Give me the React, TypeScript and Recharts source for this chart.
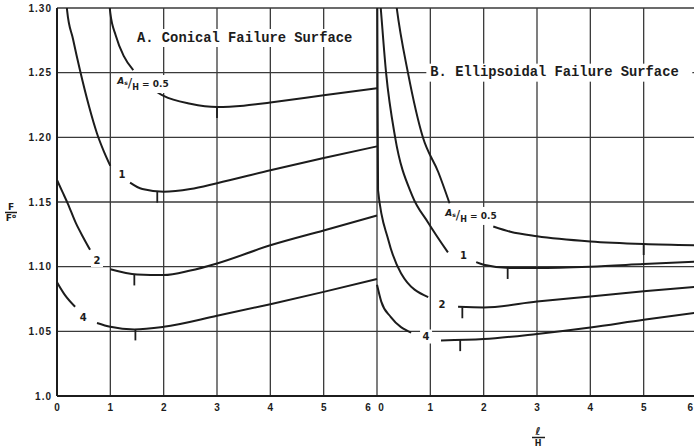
import React from 'react';
import { ComposedChart, Line, Scatter, XAxis, YAxis, CartesianGrid, ReferenceDot } from 'recharts';

// A. conical failure surface, x = l/H (0..6), y = F/Fo
// each curve is broken where its As/H label sits
const cone05Left = [[0.97, 1.31], [1.0, 1.296], [1.1, 1.279], [1.25, 1.263], [1.43, 1.252]];
const cone05Right = [[1.8, 1.237], [2.0, 1.232], [2.5, 1.226], [3.0, 1.2235], [3.5, 1.2245], [4.0, 1.227], [5.0, 1.2325], [6.0, 1.238]];
const cone1Left = [[0.17, 1.31], [0.19, 1.298], [0.3, 1.276], [0.43, 1.252], [0.6, 1.224], [0.75, 1.203], [0.88, 1.189], [1.0, 1.178]];
const cone1Right = [[1.37, 1.165], [1.6, 1.16], [2.0, 1.158], [2.5, 1.16], [3.0, 1.1645], [4.0, 1.1745], [5.0, 1.184], [6.0, 1.193]];
const cone2Left = [[0.0, 1.167], [0.1, 1.158], [0.2, 1.149], [0.35, 1.134], [0.5, 1.122], [0.62, 1.113]];
const cone2Right = [[1.0, 1.098], [1.5, 1.094], [2.0, 1.0935], [2.5, 1.097], [3.0, 1.1025], [4.0, 1.1165], [5.0, 1.128], [6.0, 1.1395]];
const cone4Left = [[0.0, 1.088], [0.15, 1.078], [0.34, 1.069]];
const cone4Right = [[0.75, 1.0565], [1.0, 1.0535], [1.45, 1.0515], [2.0, 1.0535], [3.0, 1.062], [4.0, 1.071], [5.0, 1.0805], [6.0, 1.0905]];
const coneMins = [[3.0, 1.2235], [1.88, 1.158], [1.45, 1.094], [1.47, 1.0515]];

// B. ellipsoidal failure surface, same axes, drawn to the right of A
const ellip05Left = [[0.34, 1.31], [0.37, 1.3], [0.58, 1.25], [0.86, 1.2], [1.15, 1.173], [1.36, 1.149]];
const ellip05Right = [[2.18, 1.131], [2.5, 1.127], [3.0, 1.1235], [4.0, 1.1195], [5.0, 1.1175], [6.0, 1.1165]];
const ellip1Left = [[0.05, 1.31], [0.07, 1.3], [0.17, 1.25], [0.34, 1.2], [0.66, 1.155], [0.96, 1.134], [1.33, 1.111]];
const ellip1Right = [[1.86, 1.1035], [2.0, 1.1015], [2.5, 1.099], [3.0, 1.099], [4.0, 1.1], [5.0, 1.102], [6.0, 1.104]];
const ellip2Left = [[0.005, 1.31], [0.01, 1.25], [0.02, 1.159], [0.21, 1.121], [0.45, 1.095], [0.96, 1.0765]];
const ellip2Right = [[1.52, 1.069], [2.0, 1.0685], [3.0, 1.073], [4.0, 1.077], [5.0, 1.081], [6.0, 1.0845]];
const ellip4Left = [[0.0, 1.086], [0.08, 1.073], [0.26, 1.061], [0.64, 1.049]];
const ellip4Right = [[1.2, 1.043], [2.0, 1.044], [3.0, 1.048], [4.0, 1.053], [5.0, 1.059], [6.0, 1.0645]];
const ellipMins = [[5.0, 1.1175], [2.45, 1.099], [1.6, 1.0686], [1.56, 1.0432]];

const xTicks = [0, 1, 2, 3, 4, 5, 6, 7, 8, 9, 10, 11, 12];
const yTicks = [1.0, 1.05, 1.1, 1.15, 1.2, 1.25, 1.3];

// [panel, x, y, text]
const curveLabels: [string, number, number, string][] = [
  ['A', 1.13, 1.242, '0.5'],
  ['A', 1.22, 1.171, '1'],
  ['A', 0.75, 1.105, '2'],
  ['A', 0.49, 1.061, '4'],
  ['B', 1.28, 1.14, '0.5'],
  ['B', 1.62, 1.109, '1'],
  ['B', 1.22, 1.071, '2'],
  ['B', 0.92, 1.046, '4'],
];

const INK = '#1c1c1c';
const GRID = '#3a3a3a';
const SHIFT_B = 6;

const toPts = (arr: number[][], shift = 0) => arr.map(([x, y]) => ({ x: x + shift, y }));

const curves = [
  cone05Left, cone05Right, cone1Left, cone1Right, cone2Left, cone2Right, cone4Left, cone4Right,
].map((c) => toPts(c)).concat(
  [ellip05Left, ellip05Right, ellip1Left, ellip1Right, ellip2Left, ellip2Right, ellip4Left, ellip4Right].map((c) => toPts(c, SHIFT_B))
);

const minMarks = toPts(coneMins).concat(toPts(ellipMins, SHIFT_B));

const XTick = (props: any) => {
  const { x, y, payload } = props;
  const v = payload.value;
  const style = { fontFamily: 'Liberation Sans, Arial', fontWeight: 700, fontSize: 10, fill: INK };
  if (v === 6) {
    return (
      <g>
        <text x={x - 9} y={y} dy="0.71em" textAnchor="middle" {...style}>6</text>
        <text x={x + 4} y={y} dy="0.71em" textAnchor="middle" {...style}>0</text>
      </g>
    );
  }
  if (v === 12) {
    // last tick sits on the page edge, keep its label inside
    return <text x={x - 4} y={y} dy="0.71em" textAnchor="end" {...style}>6</text>;
  }
  return (
    <text x={x} y={y} dy="0.71em" textAnchor="middle" {...style}>
      {v > 6 ? v - 6 : v}
    </text>
  );
};

const MinTick = (props: any) => {
  const { cx, cy } = props;
  return <line x1={cx} y1={cy} x2={cx} y2={cy + 11} stroke={INK} strokeWidth={1.8} />;
};

const Title = ({ cx, cy, text, w }: any) => (
  <g>
    <rect x={cx - 4} y={cy - 9} width={w} height={18} fill="#fff" />
    <text x={cx} y={cy} dominantBaseline="central" fontFamily="Liberation Mono, Courier New, monospace"
      fontWeight={700} fontSize={13.8} fill={INK}>
      {text}
    </text>
  </g>
);

const CurveLabel = ({ cx, cy, text }: any) => {
  const font = { fontFamily: 'DejaVu Sans, Arial', fontWeight: 700, fill: INK };
  if (text === '0.5') {
    return (
      <g>
        <rect x={cx - 2} y={cy - 8} width={58} height={18} fill="#fff" />
        <text x={cx} y={cy + 4} {...font} fontSize={9}>
          <tspan fontStyle="italic" dy={-3}>A</tspan>
          <tspan fontSize={6} dy={1}>s</tspan>
          <tspan fontSize={13} fontWeight={400} dy={2}>/</tspan>
          <tspan fontSize={8} dy={3}>H</tspan>
          <tspan dy={-3}> = 0.5</tspan>
        </text>
      </g>
    );
  }
  return (
    <g>
      <rect x={cx - 6} y={cy - 7} width={12} height={14} fill="#fff" />
      <text x={cx} y={cy} textAnchor="middle" dominantBaseline="central" {...font} fontSize={10}>{text}</text>
    </g>
  );
};

export default function App() {
  return (
    <div style={{ position: 'absolute', left: 0, top: 0, width: 694, height: 447, overflow: 'hidden', background: '#fff' }}>
      <ComposedChart width={700} height={447} margin={{ top: 8, right: 3, bottom: 21, left: 7 }}>
        <CartesianGrid stroke={GRID} strokeWidth={1.3} />
        <XAxis
          type="number"
          dataKey="x"
          domain={[0, 12]}
          ticks={xTicks}
          interval={0}
          height={30}
          tickLine={false}
          axisLine={{ stroke: INK, strokeWidth: 2 }}
          tick={<XTick />}
          allowDataOverflow
        />
        <YAxis
          type="number"
          dataKey="y"
          domain={[1.0, 1.3]}
          ticks={yTicks}
          interval={0}
          width={50}
          tickSize={3}
          tickLine={false}
          axisLine={{ stroke: INK, strokeWidth: 2 }}
          allowDataOverflow
          tickFormatter={(v: number) => (v === 1 ? '1.0' : v.toFixed(2))}
          tick={{ fontFamily: 'Liberation Sans, Arial', fontWeight: 700, fontSize: 10, fill: INK, letterSpacing: 1 }}
        />
        {curves.map((d, i) => (
          <Line
            key={`c-${i}`}
            data={d}
            dataKey="y"
            type="monotone"
            stroke={INK}
            strokeWidth={2}
            dot={false}
            activeDot={false}
            isAnimationActive={false}
          />
        ))}
        <Scatter data={minMarks} dataKey="y" shape={<MinTick />} isAnimationActive={false} />
        <ReferenceDot x={1.5} y={1.2768} r={0} shape={(p: any) => <Title {...p} text="A.  Conical Failure Surface" w={232} />} />
        <ReferenceDot x={7.0} y={1.25} r={0} shape={(p: any) => <Title {...p} text="B.  Ellipsoidal Failure Surface" w={266} />} />
        {curveLabels.map(([panel, x, y, t], i) => (
          <ReferenceDot
            key={`l-${i}`}
            x={panel === 'B' ? x + SHIFT_B : x}
            y={y}
            r={0}
            shape={(p: any) => <CurveLabel {...p} text={t} />}
          />
        ))}
      </ComposedChart>
      <svg width={694} height={447} style={{ position: 'absolute', left: 0, top: 0, pointerEvents: 'none' }}>
        <g fontFamily="DejaVu Sans, Arial" fontWeight={700} fill={INK}>
          <text x={11} y={210} fontSize={9} textAnchor="middle">F</text>
          <line x1={5} y1={212.5} x2={17} y2={212.5} stroke={INK} strokeWidth={1.5} />
          <text x={11} y={221} fontSize={9} textAnchor="middle">F<tspan fontSize={6} dy={-3}>o</tspan></text>
          <text x={538} y={435} fontSize={11} fontStyle="italic" textAnchor="middle">ℓ</text>
          <line x1={532} y1={437.5} x2={545} y2={437.5} stroke={INK} strokeWidth={1.5} />
          <text x={538} y={446} fontSize={8} textAnchor="middle">H</text>
        </g>
      </svg>
    </div>
  );
}
